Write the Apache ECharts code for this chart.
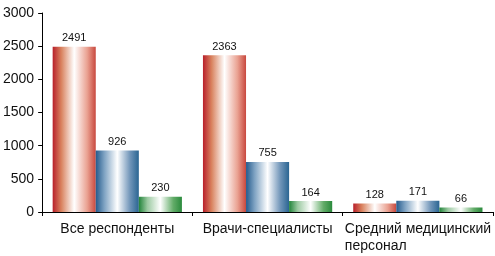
<!DOCTYPE html>
<html>
<head>
<meta charset="utf-8">
<script src="https://cdn.jsdelivr.net/npm/echarts@6/dist/echarts.min.js"></script>
<style>
  html, body { margin: 0; padding: 0; background: #fff; }
  #chart { width: 495px; height: 256px; }
</style>
</head>
<body>
<div id="chart"></div>
<script>
// данные
var categories = ['Все респонденты', 'Врачи-специалисты', 'Средний медицинский\nперсонал'];
var redVals = [2491, 2363, 128];
var blueVals = [926, 755, 171];
var greenVals = [230, 164, 66];
var yTicks = [0, 500, 1000, 1500, 2000, 2500, 3000];

var font = '"Liberation Sans Narrow", "Liberation Sans", Arial, sans-serif';

// цилиндрический градиент
function tube(c0, c1, c2, c3) {
  return new echarts.graphic.LinearGradient(0, 0, 1, 0, [
    { offset: 0, color: c0 },
    { offset: 0.2, color: c1 },
    { offset: 0.5, color: '#ffffff' },
    { offset: 0.8, color: c2 },
    { offset: 1, color: c3 }
  ]);
}

function bar(name, data, color) {
  return {
    name: name,
    type: 'bar',
    data: data,
    barGap: '0%',
    barCategoryGap: '14%',
    itemStyle: { color: color },
    label: {
      show: true,
      position: 'top',
      distance: 3,
      color: '#111',
      fontFamily: font,
      fontSize: 11
    }
  };
}

var myChart = echarts.init(document.getElementById('chart'));
var option = {
  animation: false,
  grid: { left: 41, right: 2, top: 13, bottom: 44 },
  xAxis: {
    type: 'category',
    data: categories,
    axisLine: { lineStyle: { color: '#000', width: 1 } },
    axisTick: { show: true, length: 4, lineStyle: { color: '#000' } },
    axisLabel: {
      margin: 9,
      interval: 0,
      fontFamily: font,
      fontSize: 14,
      color: '#111',
      lineHeight: 17,
      formatter: function (v) {
        if (v.indexOf('\n') < 0) return v;
        return v.split('\n').map(function (s) { return '{l|' + s + '}'; }).join('\n');
      },
      rich: {
        l: { width: 146, align: 'left', fontFamily: font, fontSize: 14, color: '#111', lineHeight: 17 }
      }
    }
  },
  yAxis: {
    type: 'value',
    min: yTicks[0],
    max: yTicks[yTicks.length - 1],
    interval: 500,
    splitLine: { show: false },
    axisLine: { show: true, lineStyle: { color: '#000', width: 1 } },
    axisTick: { show: true, length: 4, lineStyle: { color: '#000' } },
    axisLabel: {
      margin: 8,
      fontFamily: font,
      fontSize: 14,
      color: '#111',
      formatter: function (v) { return String(v); }
    }
  },
  series: [
    bar('red', redVals, tube('#b81f2a', '#d9825e', '#eaa292', '#c8483e')),
    bar('blue', blueVals, tube('#245a8c', '#7fa3c3', '#6f94b8', '#2a6592')),
    bar('green', greenVals, tube('#22843a', '#9ccaa2', '#62ac68', '#2a8a3c'))
  ]
};
myChart.setOption(option);
</script>
</body>
</html>
